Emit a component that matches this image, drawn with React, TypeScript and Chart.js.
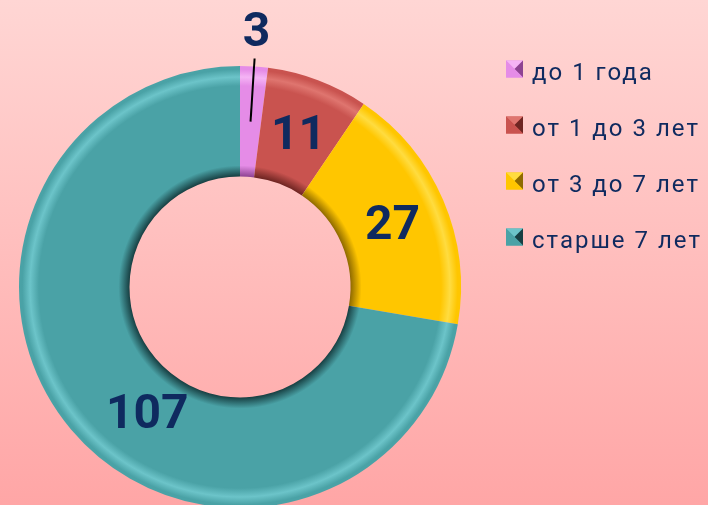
import React, { useEffect, useRef } from "react";
import { Chart, registerables } from "chart.js";

Chart.register(...registerables);

const categories = ["до 1 года", "от 1 до 3 лет", "от 3 до 7 лет", "старше 7 лет"];
const values = [3, 11, 27, 107];
const baseColors = ["#e58ce7", "#c9534f", "#ffc600", "#4aa2a6"];
const lightColors = ["#f5b4f5", "#df756f", "#ffdc40", "#6cc4c9"];
const darkColors = ["#8e4392", "#6e2522", "#8f6a00", "#173f42"];

const TEXT = "#0f2a5f";
const FONT = "Roboto, 'Noto Sans', sans-serif";
const CUTOUT = 0.5;

function bevelFill(context: any) {
  const chart = context.chart;
  const i = context.dataIndex;
  const area = chart.chartArea;
  if (!area) return baseColors[i];
  const x = (area.left + area.right) / 2;
  const y = (area.top + area.bottom) / 2;
  const outerRadius = Math.min(area.right - area.left, area.bottom - area.top) / 2;
  const innerRadius = outerRadius * CUTOUT;
  const g = chart.ctx.createRadialGradient(x, y, innerRadius, x, y, outerRadius);
  g.addColorStop(0, darkColors[i]);
  g.addColorStop(0.1, baseColors[i]);
  g.addColorStop(0.82, baseColors[i]);
  g.addColorStop(0.9, lightColors[i]);
  g.addColorStop(0.97, baseColors[i]);
  g.addColorStop(1, baseColors[i]);
  return g;
}

const labelPlugin = {
  id: "valueLabels",
  afterDatasetsDraw(chart: any) {
    const ctx = chart.ctx;
    const meta = chart.getDatasetMeta(0);
    ctx.save();
    ctx.font = `bold 48px ${FONT}`;
    ctx.fillStyle = TEXT;
    ctx.textAlign = "center";
    ctx.textBaseline = "alphabetic";
    const half = 0.355 * 48;
    meta.data.forEach((arc: any, i: number) => {
      const { x, y, startAngle, endAngle, innerRadius, outerRadius } = arc;
      const span = endAngle - startAngle;
      if (i === 0) {
        const a = startAngle + span / 2;
        const r1 = (innerRadius + outerRadius) / 2;
        const r2 = outerRadius + 8;
        ctx.strokeStyle = "#000";
        ctx.lineWidth = 2;
        ctx.beginPath();
        ctx.moveTo(x + r1 * Math.cos(a), y + r1 * Math.sin(a));
        ctx.lineTo(x + r2 * Math.cos(a), y + r2 * Math.sin(a));
        ctx.stroke();
        const rl = outerRadius + 38;
        ctx.fillText(String(values[i]), x + rl * Math.cos(a), y + rl * Math.sin(a) + half);
      } else {
        const frac = i === values.length - 1 ? 0.45 : 0.5;
        const rf = i === values.length - 1 ? 0.4 : 0.5;
        const a = startAngle + span * frac;
        const r = innerRadius + (outerRadius - innerRadius) * rf;
        ctx.fillText(String(values[i]), x + r * Math.cos(a), y + r * Math.sin(a) + half);
      }
    });
    ctx.restore();
  },
};

const legendPlugin = {
  id: "bevelLegend",
  afterDraw(chart: any) {
    const ctx = chart.ctx;
    const left = 506;
    const top = 70;
    const step = 56;
    const s = 17;
    ctx.save();
    categories.forEach((label, i) => {
      const cy = top + step * i;
      const x0 = left;
      const y0 = cy - s / 2 - 1;
      const cx = x0 + s / 2;
      const my = y0 + s / 2;
      const tri = (pts: number[][], col: string) => {
        ctx.beginPath();
        ctx.moveTo(pts[0][0], pts[0][1]);
        ctx.lineTo(pts[1][0], pts[1][1]);
        ctx.lineTo(pts[2][0], pts[2][1]);
        ctx.closePath();
        ctx.fillStyle = col;
        ctx.fill();
      };
      ctx.fillStyle = baseColors[i];
      ctx.fillRect(x0, y0, s, s);
      tri([[x0, y0], [x0 + s, y0], [cx, my]], lightColors[i]);
      tri([[x0, y0], [x0, y0 + s], [cx, my]], baseColors[i]);
      tri([[x0 + s, y0], [x0 + s, y0 + s], [cx, my]], darkColors[i]);
      tri([[x0, y0 + s], [x0 + s, y0 + s], [cx, my]], baseColors[i]);
      ctx.font = `24px ${FONT}`;
      (ctx as any).letterSpacing = "2px";
      ctx.fillStyle = TEXT;
      ctx.textAlign = "left";
      ctx.textBaseline = "alphabetic";
      ctx.fillText(label, x0 + 26, cy + 0.355 * 24 + 1);
      (ctx as any).letterSpacing = "0px";
    });
    ctx.restore();
  },
};

export default function App() {
  const ref = useRef<HTMLCanvasElement | null>(null);
  useEffect(() => {
    if (!ref.current) return;
    const chart = new Chart(ref.current, {
      type: "doughnut",
      data: {
        labels: categories,
        datasets: [
          {
            data: values,
            backgroundColor: bevelFill as any,
            borderWidth: 0,
          },
        ],
      },
      options: {
        responsive: false,
        animation: false,
        devicePixelRatio: 1,
        cutout: `${CUTOUT * 100}%`,
        layout: { padding: { left: 19, right: 247, top: 66, bottom: 12 } },
        plugins: {
          legend: { display: false },
          tooltip: { enabled: false },
        },
      },
      plugins: [labelPlugin, legendPlugin],
    });
    return () => chart.destroy();
  }, []);
  return (
    <div
      style={{
        position: "fixed",
        left: 0,
        top: 0,
        width: 708,
        height: 505,
        overflow: "hidden",
        background: "linear-gradient(#ffd6d4, #ffa6a6)",
      }}
    >
      <canvas ref={ref} width={708} height={520} style={{ display: "block" }} />
    </div>
  );
}
